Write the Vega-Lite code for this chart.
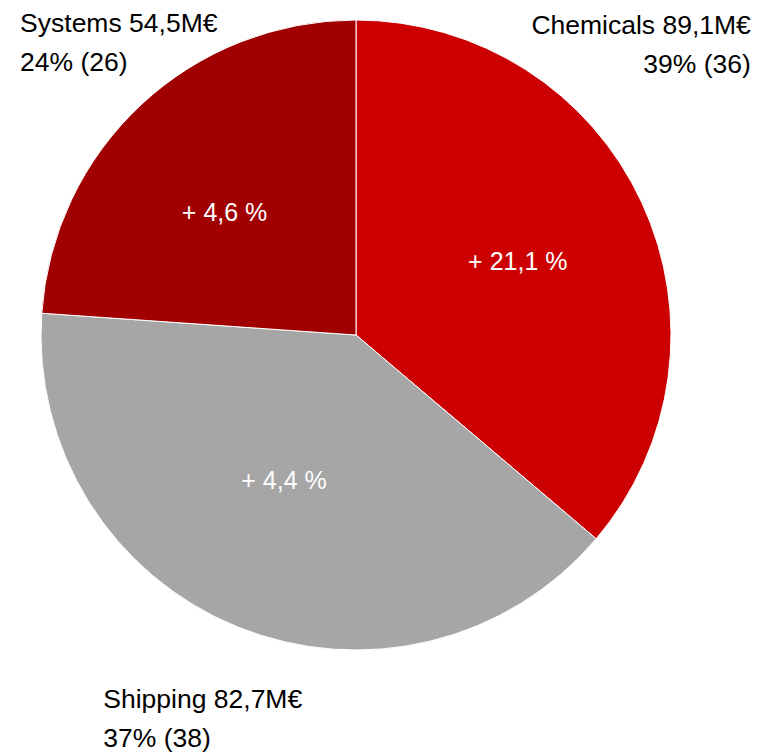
{
  "$schema": "https://vega.github.io/schema/vega-lite/v6.json",
  "width": 712,
  "height": 670,
  "autosize": {"type": "none"},
  "padding": {"left": 0, "top": 0, "right": 64, "bottom": 85},
  "background": "white",
  "config": {"view": {"stroke": null}, "text": {"font": "Liberation Sans Narrow, Liberation Sans, sans-serif"}},
  "data": {
    "values": [
      {"segment": "Chemicals", "share": 36.2, "rank": 1, "label": "Chemicals 89,1M€\n39% (36)", "growth": "+ 21,1 %"},
      {"segment": "Shipping", "share": 39.9, "rank": 2, "label": "Shipping 82,7M€\n37% (38)", "growth": "+ 4,4 %"},
      {"segment": "Systems", "share": 23.9, "rank": 3, "label": "Systems 54,5M€\n24% (26)", "growth": "+ 4,6 %"}
    ]
  },
  "encoding": {
    "theta": {"field": "share", "type": "quantitative", "stack": true},
    "order": {"field": "rank", "type": "quantitative"}
  },
  "layer": [
    {
      "mark": {"type": "arc", "outerRadius": 315, "stroke": "white", "strokeWidth": 1},
      "encoding": {
        "color": {
          "field": "segment", "type": "nominal",
          "scale": {"domain": ["Chemicals", "Shipping", "Systems"], "range": ["#CC0000", "#A6A6A6", "#A00000"]},
          "legend": null
        }
      }
    },
    {
      "mark": {"type": "text", "radius": 175, "fontSize": 25, "color": "white", "align": "center", "baseline": "middle", "dx": 3, "dy": 1},
      "encoding": {"text": {"condition": {"test": "datum.segment == 'Chemicals'", "field": "growth"}, "value": ""}}
    },
    {
      "mark": {"type": "text", "radius": 175, "fontSize": 25, "color": "white", "align": "center", "baseline": "middle", "dx": -6, "dy": -16},
      "encoding": {"text": {"condition": {"test": "datum.segment == 'Shipping'", "field": "growth"}, "value": ""}}
    },
    {
      "mark": {"type": "text", "radius": 175, "fontSize": 25, "color": "white", "align": "center", "baseline": "middle", "dx": -12, "dy": 6},
      "encoding": {"text": {"condition": {"test": "datum.segment == 'Systems'", "field": "growth"}, "value": ""}}
    },
    {
      "mark": {"type": "text", "radius": 315, "fontSize": 26.5, "lineHeight": 39, "lineBreak": "\n", "color": "black", "align": "right", "baseline": "alphabetic", "dx": 109, "dy": -169},
      "encoding": {"text": {"condition": {"test": "datum.segment == 'Chemicals'", "field": "label"}, "value": ""}}
    },
    {
      "mark": {"type": "text", "radius": 315, "fontSize": 26.5, "lineHeight": 39, "lineBreak": "\n", "color": "black", "align": "left", "baseline": "alphabetic", "dx": -134, "dy": 81},
      "encoding": {"text": {"condition": {"test": "datum.segment == 'Shipping'", "field": "label"}, "value": ""}}
    },
    {
      "mark": {"type": "text", "radius": 315, "fontSize": 26.5, "lineHeight": 39, "lineBreak": "\n", "color": "black", "align": "left", "baseline": "alphabetic", "dx": -121, "dy": -73},
      "encoding": {"text": {"condition": {"test": "datum.segment == 'Systems'", "field": "label"}, "value": ""}}
    }
  ]
}
